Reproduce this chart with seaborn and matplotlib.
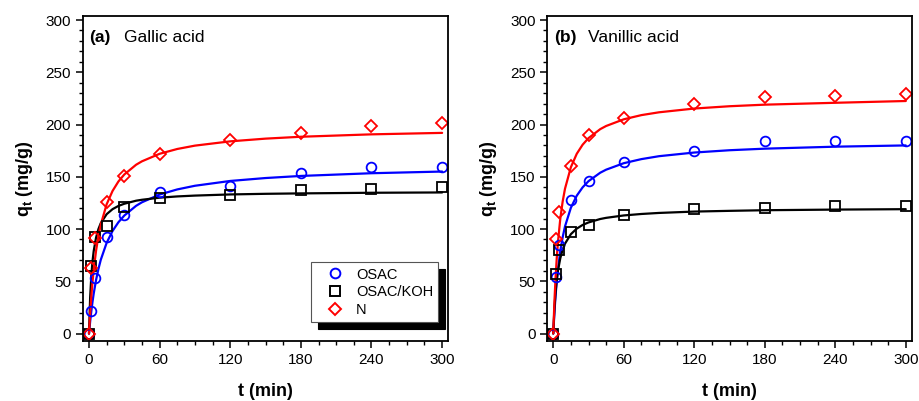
import numpy as np
import pandas as pd
import matplotlib
matplotlib.use('Agg')
import matplotlib.pyplot as plt
from matplotlib.lines import Line2D
from matplotlib.ticker import MultipleLocator
import seaborn as sns

# measured points (t in min, q_t in mg/g)
t_exp = [0, 2, 5, 15, 30, 60, 120, 180, 240, 300]

gallic_osac = [0, 22, 53, 92, 113, 135, 141, 154, 159, 159]
gallic_koh = [0, 65, 92, 103, 121, 130, 133, 137, 138, 140]
gallic_n = [0, 63, 91, 126, 151, 172, 185, 192, 199, 201]

vanillic_osac = [0, 54, 85, 128, 146, 164, 175, 184, 184, 184]
vanillic_koh = [0, 57, 80, 97, 104, 113, 119, 120, 122, 122]
vanillic_n = [0, 90, 116, 160, 190, 206, 220, 226, 227, 229]

# fitted curves
t_fit = [0, 1, 2, 3, 4, 6, 8, 10, 15, 20, 25, 30, 40, 45, 60, 75, 90, 120, 150, 180, 240, 300]

gallic_osac_fit = [0, 11.6, 21.6, 30.4, 38.2, 51.2, 61.7, 70.5, 86.8, 98.1, 106.5, 112.9,
                   122.2, 125.6, 133.0, 137.9, 141.4, 146.0, 148.8, 150.8, 153.4, 155.0]
gallic_koh_fit = [0, 34.9, 55.5, 69.2, 78.9, 91.8, 99.9, 105.6, 114.2, 119.0, 122.1, 124.2,
                  127.1, 128.0, 130.0, 131.2, 132.0, 133.1, 133.7, 134.1, 134.7, 135.0]
gallic_n_fit = [0, 19.8, 36.0, 49.5, 60.9, 79.2, 93.1, 104.2, 123.7, 136.4, 145.5, 152.2,
                161.5, 164.8, 172.0, 176.6, 179.8, 183.9, 186.5, 188.3, 190.6, 192.0]

vanillic_osac_fit = [0, 20.5, 36.8, 50.3, 61.4, 79.0, 92.2, 102.5, 120.4, 131.9, 139.9, 145.8,
                     153.9, 156.8, 163.0, 166.9, 169.7, 173.2, 175.4, 176.9, 178.8, 180.0]
vanillic_koh_fit = [0, 24.0, 40.0, 51.5, 60.1, 72.1, 80.2, 86.0, 95.1, 100.4, 103.9, 106.3,
                    109.6, 110.7, 113.0, 114.4, 115.4, 116.7, 117.4, 118.0, 118.6, 119.0]
vanillic_n_fit = [0, 30.8, 54.2, 72.7, 87.5, 110.0, 126.3, 138.6, 159.2, 172.0, 180.7, 187.0,
                  195.6, 198.6, 205.0, 209.0, 211.7, 215.3, 217.5, 219.0, 220.8, 222.5]

series_names = ['OSAC', 'OSAC/KOH', 'N']
colors = {'OSAC': '#0000ff', 'OSAC/KOH': '#000000', 'N': '#ff0000'}
markers = {'OSAC': 'o', 'OSAC/KOH': 's', 'N': 'D'}

sns.set_style('ticks')
plt.rcParams['font.family'] = ['Liberation Sans', 'DejaVu Sans']
plt.rcParams['mathtext.fontset'] = 'custom'
plt.rcParams['mathtext.rm'] = 'Liberation Sans'
plt.rcParams['mathtext.bf'] = 'Liberation Sans:bold'
for key in ['text.color', 'axes.labelcolor', 'xtick.color', 'ytick.color', 'axes.edgecolor']:
    plt.rcParams[key] = 'black'

fig = plt.figure(figsize=(9.19, 4.01), dpi=100)
ax_a = fig.add_axes([0.0903, 0.150, 0.3972, 0.8105])
ax_b = fig.add_axes([0.5955, 0.150, 0.3965, 0.8105])

panels = [
    (ax_a, '(a)', 'Gallic acid',
     {'OSAC': gallic_osac, 'OSAC/KOH': gallic_koh, 'N': gallic_n},
     {'OSAC': gallic_osac_fit, 'OSAC/KOH': gallic_koh_fit, 'N': gallic_n_fit}),
    (ax_b, '(b)', 'Vanillic acid',
     {'OSAC': vanillic_osac, 'OSAC/KOH': vanillic_koh, 'N': vanillic_n},
     {'OSAC': vanillic_osac_fit, 'OSAC/KOH': vanillic_koh_fit, 'N': vanillic_n_fit}),
]

for ax, tag, name, pts, fits in panels:
    for s in series_names:
        sns.lineplot(x=t_fit, y=fits[s], color=colors[s], lw=1.6, ax=ax)
    for s in series_names:
        ms = 7 if s != 'N' else 6
        sns.lineplot(x=t_exp, y=pts[s], ax=ax, linestyle='', marker=markers[s],
                     markersize=ms, markerfacecolor='none', markeredgecolor=colors[s],
                     markeredgewidth=1.3, color=colors[s])

    ax.set_xlim(-5.1, 305)
    ax.set_ylim(-7, 304)
    ax.xaxis.set_major_locator(MultipleLocator(60))
    ax.xaxis.set_minor_locator(MultipleLocator(15))
    ax.yaxis.set_major_locator(MultipleLocator(50))
    ax.yaxis.set_minor_locator(MultipleLocator(10))
    ax.tick_params(which='major', length=5, width=1.1, labelsize=11, direction='out',
                   colors='black')
    ax.tick_params(which='minor', length=3, width=1.0, direction='out')
    for sp in ax.spines.values():
        sp.set_visible(True)
        sp.set_linewidth(1.3)
        sp.set_color('black')

    ax.set_xlabel('t (min)', fontsize=13, fontweight='bold', labelpad=12)
    ax.set_ylabel(r'q$_\mathregular{t}$ (mg/g)', fontsize=13, fontweight='bold', labelpad=8)

    ax.text(0.018, 0.955, tag, transform=ax.transAxes, fontsize=12.5, fontweight='bold',
            va='top', ha='left')
    ax.text(0.113, 0.955, name, transform=ax.transAxes, fontsize=12.5,
            va='top', ha='left')

handles = [Line2D([], [], linestyle='', marker=markers[s], markersize=7 if s != 'N' else 6,
                  markerfacecolor='none', markeredgecolor=colors[s], markeredgewidth=1.4)
           for s in series_names]
leg = ax_a.legend(handles, series_names, loc='lower right', bbox_to_anchor=(0.973, 0.058),
                  borderaxespad=0, fancybox=False, fontsize=10.5, handlelength=2.6,
                  handletextpad=0.15, labelspacing=0.25, borderpad=0.35,
                  shadow={'ox': 5, 'oy': -5, 'color': 'black', 'alpha': 1})
leg.get_frame().set_edgecolor('#555555')
leg.get_frame().set_linewidth(0.8)
leg.get_frame().set_alpha(1)

fig.savefig('out.png', dpi=100)
